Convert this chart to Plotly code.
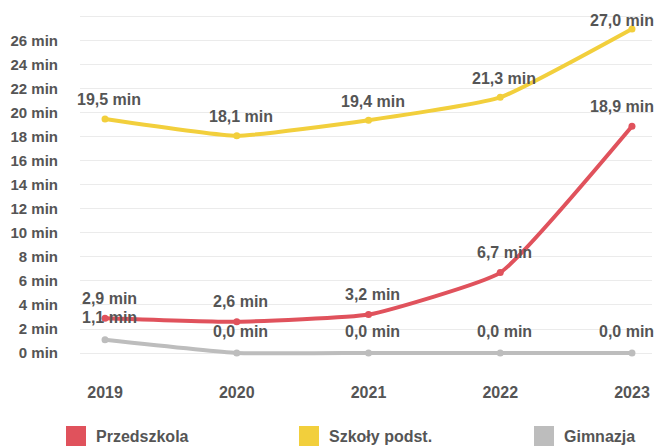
import plotly.graph_objects as go

years = [2019, 2020, 2021, 2022, 2023]
series_names = ["Przedszkola", "Szkoły podst.", "Gimnazja"]
przedszkola = [2.9, 2.6, 3.2, 6.7, 18.9]
szkoly = [19.5, 18.1, 19.4, 21.3, 27.0]
gimnazja = [1.1, 0.0, 0.0, 0.0, 0.0]
y_ticks = list(range(0, 30, 2))
y_tick_labels = [f"{v} min" for v in range(0, 28, 2)] + [""]

colors = ["#E0525C", "#F2CF3C", "#BDBDBD"]
label_shift = [20, 19, 22]
W, H = 654, 438  # page body adds an 8px margin in the 662x446 window
M_T, M_B = 2, 81
Y_RANGE = [-1.0, 28.58]
legend_x = [48, 281, 516]
txt = "#555555"
font_family = "Liberation Sans, Arial, sans-serif"

fig = go.Figure()
data = [przedszkola, szkoly, gimnazja]
# draw gray first, then red, then yellow
for idx in [2, 0, 1]:
    fig.add_trace(go.Scatter(
        x=years, y=data[idx], mode="lines+markers",
        line=dict(color=colors[idx], width=4, shape="spline", smoothing=0.4),
        marker=dict(color=colors[idx], size=7),
        showlegend=False, hoverinfo="skip"))

legend_keys = ["legend", "legend2", "legend3"]
for i, name in enumerate(series_names):
    fig.add_trace(go.Scatter(
        x=[None], y=[None], mode="markers", name=name, legend=legend_keys[i],
        marker=dict(symbol="square", size=16, color=colors[i],
                    line=dict(color=colors[i], width=4))))

plot_h = H - M_T - M_B
last = years[-1]
for i, vals in enumerate(data):
    for x, v in zip(years, vals):
        y_px = M_T + (Y_RANGE[1] - v) / (Y_RANGE[1] - Y_RANGE[0]) * plot_h
        shift = min(label_shift[i], y_px - 13)  # keep label inside the page
        fig.add_annotation(
            x=x, y=v, text=f"{v:.1f} min".replace(".", ","),
            showarrow=False, yshift=shift,
            xanchor="right" if x == last else "center",
            xshift=24 if x == last else 4,
            font=dict(size=16, color=txt, family=font_family, weight="bold"))

legend_common = dict(orientation="h", xanchor="left", y=10 / H, yanchor="middle",
                     xref="container", yref="container",
                     font=dict(size=16, color=txt, weight="bold"),
                     itemsizing="trace", bgcolor="rgba(0,0,0,0)")
layout_legends = {}
for k, lx in zip(legend_keys, legend_x):
    layout_legends[k] = dict(legend_common, x=lx / W)

fig.update_layout(
    width=W, height=H,
    margin=dict(l=72, r=10, t=M_T, b=M_B, autoexpand=False),
    plot_bgcolor="white", paper_bgcolor="white",
    font=dict(family=font_family, color=txt, size=15, weight="bold"),
    xaxis=dict(range=[2018.81, 2023.152], tickvals=years,
               ticktext=[str(y) for y in years], showgrid=False,
               zeroline=False, showline=False, ticklabelstandoff=16,
               tickfont=dict(size=16, color=txt, weight="bold")),
    yaxis=dict(range=Y_RANGE, tickvals=y_ticks, ticktext=y_tick_labels,
               showgrid=True, gridcolor="#EBEBEB", gridwidth=1,
               zeroline=False, showline=False, ticklabelstandoff=21,
               tickfont=dict(size=15, color=txt, weight="bold")),
    **layout_legends,
)

fig.write_html("out.html")
